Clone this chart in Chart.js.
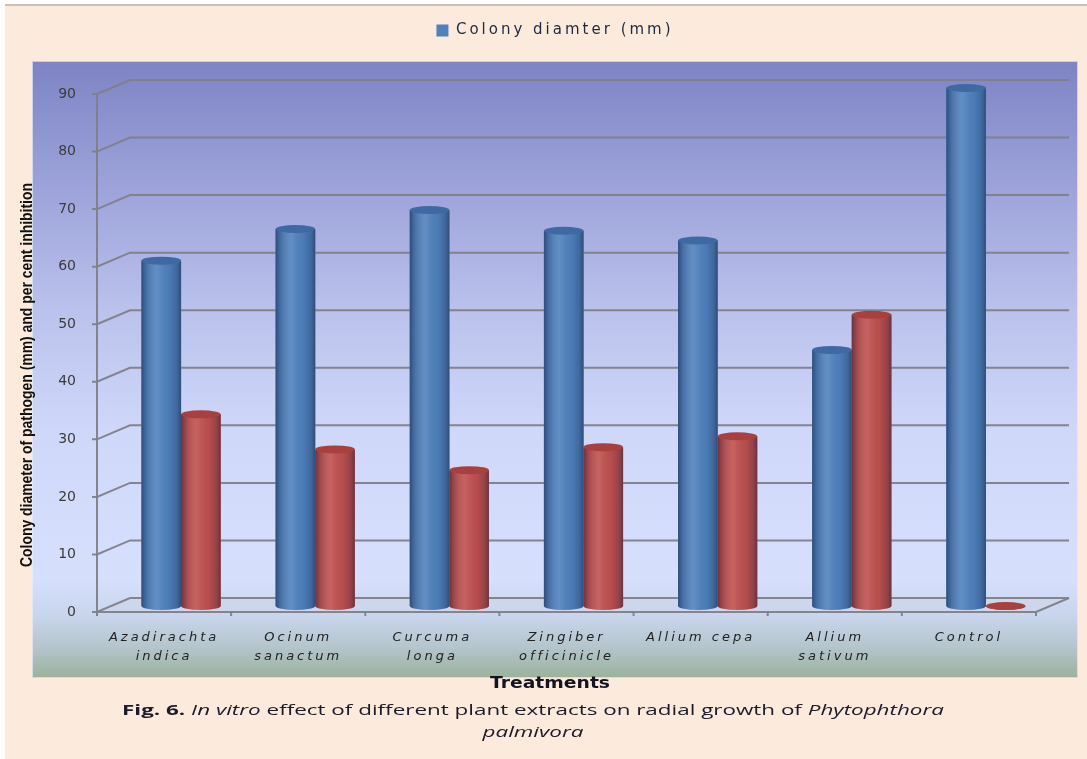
<!DOCTYPE html>
<html>
<head>
<meta charset="utf-8">
<title>Colony diameter and per cent inhibition</title>
<script src="https://cdn.jsdelivr.net/npm/chart.js@4.4.1/dist/chart.umd.min.js"></script>
<style>
  html, body { margin: 0; padding: 0; background: #ffffff; }
  canvas { display: block; }
</style>
</head>
<body>
<canvas id="chart" width="1087" height="759"></canvas>
<script>
// ---- data ----
const treatments = [
  ['Azadirachta', 'indica'],
  ['Ocinum', 'sanactum'],
  ['Curcuma', 'longa'],
  ['Zingiber', 'officinicle'],
  ['Allium cepa'],
  ['Allium', 'sativum'],
  ['Control']
];
const seriesNames = ['Colony diamter (mm)', 'Per cent inhibition'];
const colonyDiameter = [60.0, 65.5, 68.8, 65.2, 63.5, 44.5, 90.0];
const percentInhibition = [33.3, 27.2, 23.6, 27.6, 29.5, 50.6, 0];
const yTicks = [0, 10, 20, 30, 40, 50, 60, 70, 80, 90];

const yAxisTitle = 'Colony diameter of pathogen (mm) and per cent inhibition';
const xAxisTitle = 'Treatments';
const captionLine1 = [
  { text: 'Fig. 6. ', style: 'bold' },
  { text: 'In vitro', style: 'italic' },
  { text: ' effect of different plant extracts on radial growth of ', style: 'normal' },
  { text: 'Phytophthora', style: 'italic' }
];
const captionLine2 = 'palmivora';

// ---- look ----
const BLUE = '#4F81BD', BLUE_LID = '#3E69A3';
const RED = '#C0504D', RED_LID = '#A8413E';
const GRID = 'rgba(128,128,136,0.95)';
const FRONT = { dx: -17, dy: 6 };   // front edge of the 3-D floor relative to the bar plane
const BACK = { dx: 16, dy: -8 };    // back wall relative to the bar plane
const WIDE_SPACING = '3px';         // legend and category labels are set wide

function fitText(ctx, text, cx, cy, font, width, color, rotate) {
  ctx.save();
  ctx.letterSpacing = '0px';
  ctx.font = font;
  const w = ctx.measureText(text).width;
  ctx.translate(cx, cy);
  if (rotate) ctx.rotate(rotate);
  ctx.scale(width / w, 1);
  ctx.textAlign = 'center';
  ctx.textBaseline = 'middle';
  ctx.fillStyle = color;
  ctx.fillText(text, 0, 0);
  ctx.restore();
}

const room3d = {
  id: 'room3d',
  beforeLayout(chart) { chart.ctx.letterSpacing = WIDE_SPACING; },
  beforeDraw(chart) {
    const { ctx, chartArea: ca, scales: { x, y } } = chart;
    const W = chart.width, H = chart.height;
    ctx.save();
    ctx.letterSpacing = '0px';

    // page
    ctx.fillStyle = '#ffffff';
    ctx.fillRect(0, 0, W, H);
    ctx.fillStyle = '#FCEBDC';
    ctx.fillRect(5, 5, W - 5, H - 5);
    ctx.strokeStyle = '#C9C2BA';
    ctx.lineWidth = 2;
    ctx.beginPath(); ctx.moveTo(5, 5); ctx.lineTo(W, 5); ctx.stroke();

    // plot panel
    const P = { l: ca.left - 82, t: ca.top - 27, r: ca.right + 25, b: ca.bottom + 72 };
    const g = ctx.createLinearGradient(0, P.t, 0, P.b);
    g.addColorStop(0.00, '#7E84C4');
    g.addColorStop(0.20, '#9CA2D9');
    g.addColorStop(0.40, '#BAC1EC');
    g.addColorStop(0.60, '#CFD8F9');
    g.addColorStop(0.84, '#D6DFFC');
    g.addColorStop(0.90, '#C8D5EC');
    g.addColorStop(0.95, '#B4C5CC');
    g.addColorStop(1.00, '#9BB29B');
    ctx.fillStyle = g;
    ctx.fillRect(P.l, P.t, P.r - P.l, P.b - P.t);
    ctx.strokeStyle = 'rgba(235,238,250,0.7)';
    ctx.lineWidth = 1;
    ctx.strokeRect(P.l + 0.5, P.t + 0.5, P.r - P.l - 1, P.b - P.t - 1);

    const y0 = y.getPixelForValue(y.min);
    const yMax = y.getPixelForValue(y.max);
    const fl = ca.left + FRONT.dx, fr = ca.right + FRONT.dx;
    const bl = ca.left + BACK.dx, br = ca.right + BACK.dx;

    // floor
    ctx.beginPath();
    ctx.moveTo(fl, y0 + FRONT.dy);
    ctx.lineTo(bl, y0 + BACK.dy);
    ctx.lineTo(br, y0 + BACK.dy);
    ctx.lineTo(fr, y0 + FRONT.dy);
    ctx.closePath();
    ctx.fillStyle = 'rgba(205,214,234,0.9)';
    ctx.fill();

    // back-wall gridlines with their links to the front axis
    ctx.strokeStyle = GRID;
    ctx.lineWidth = 2;
    y.ticks.forEach(t => {
      const py = y.getPixelForValue(t.value);
      ctx.beginPath();
      ctx.moveTo(fl - 5, py + FRONT.dy);
      ctx.lineTo(fl, py + FRONT.dy);
      ctx.lineTo(bl, py + BACK.dy);
      ctx.lineTo(br, py + BACK.dy);
      ctx.stroke();
    });

    // front value axis
    ctx.beginPath();
    ctx.moveTo(fl, yMax + FRONT.dy);
    ctx.lineTo(fl, y0 + FRONT.dy + 4);
    ctx.stroke();

    // front floor edge and category ticks
    ctx.beginPath();
    ctx.moveTo(fl, y0 + FRONT.dy);
    ctx.lineTo(fr, y0 + FRONT.dy);
    ctx.lineTo(br, y0 + BACK.dy);
    ctx.stroke();
    for (let i = 0; i <= x.ticks.length; i++) {
      const px = x.getPixelForValue(i - 0.5) + FRONT.dx;
      ctx.beginPath();
      ctx.moveTo(px, y0 + FRONT.dy);
      ctx.lineTo(px, y0 + FRONT.dy + 4);
      ctx.stroke();
    }
    ctx.restore();
    ctx.letterSpacing = WIDE_SPACING;
  },
  afterDatasetsDraw(chart) {
    const ctx = chart.ctx;
    const lids = [BLUE_LID, RED_LID];
    chart.data.datasets.forEach((ds, di) => {
      const meta = chart.getDatasetMeta(di);
      if (meta.hidden) return;
      meta.data.forEach(bar => {
        const p = bar.getProps(['x', 'y', 'base', 'width'], true);
        const rx = p.width / 2, ry = 4;
        const l = p.x - rx, r = p.x + rx;
        ctx.save();
        // body with a rounded foot
        ctx.beginPath();
        ctx.moveTo(l, p.y);
        ctx.lineTo(l, p.base);
        ctx.ellipse(p.x, p.base, rx, ry, 0, Math.PI, 0, true);
        ctx.lineTo(r, p.y);
        ctx.closePath();
        ctx.fillStyle = ds.backgroundColor;
        ctx.fill();
        const sh = ctx.createLinearGradient(l, 0, r, 0);
        sh.addColorStop(0.00, 'rgba(15,25,55,0.50)');
        sh.addColorStop(0.10, 'rgba(15,25,55,0.22)');
        sh.addColorStop(0.40, 'rgba(255,255,255,0.10)');
        sh.addColorStop(0.70, 'rgba(15,25,55,0.05)');
        sh.addColorStop(0.90, 'rgba(15,25,55,0.25)');
        sh.addColorStop(1.00, 'rgba(15,25,55,0.50)');
        ctx.fillStyle = sh;
        ctx.fill();
        // lid
        ctx.beginPath();
        ctx.ellipse(p.x, p.y, rx, ry, 0, 0, Math.PI * 2);
        ctx.fillStyle = lids[di];
        ctx.fill();
        ctx.restore();
      });
    });
    // the value-axis labels (ticks z = 1) are drawn next, with normal spacing
    ctx.letterSpacing = '0px';
  },
  afterDraw(chart) {
    const { ctx, chartArea: ca } = chart;
    // value-axis title
    fitText(ctx, yAxisTitle, ca.left - 87, 375,
      'bold 17px "Liberation Sans Narrow", "Liberation Sans", sans-serif', 384, '#111111', -Math.PI / 2);
    // category-axis title
    fitText(ctx, xAxisTitle, 550, ca.bottom + 78, 'bold 15px "DejaVu Sans", sans-serif', 120, '#141420');

    // caption
    ctx.save();
    ctx.letterSpacing = '0px';
    const fam = '14px "Open Sans", "Liberation Sans", sans-serif';
    const fonts = { bold: 'bold ' + fam, italic: 'italic ' + fam, normal: fam };
    let total = 0;
    const widths = captionLine1.map(seg => {
      ctx.font = fonts[seg.style];
      const w = ctx.measureText(seg.text).width;
      total += w;
      return w;
    });
    const target = 822, cx = 533;
    const sx = target / total;
    ctx.fillStyle = '#1B1B2B';
    ctx.textBaseline = 'middle';
    ctx.textAlign = 'left';
    ctx.save();
    ctx.translate(cx - target / 2, 711);
    ctx.scale(sx, 1);
    let xpos = 0;
    captionLine1.forEach((seg, i) => {
      ctx.font = fonts[seg.style];
      ctx.fillText(seg.text, xpos, 0);
      xpos += widths[i];
    });
    ctx.restore();
    ctx.save();
    ctx.translate(cx, 733);
    ctx.scale(sx, 1);
    ctx.font = fonts.italic;
    ctx.textAlign = 'center';
    ctx.fillText(captionLine2, 0, 0);
    ctx.restore();
    ctx.restore();
  }
};

new Chart(document.getElementById('chart'), {
  type: 'bar',
  data: {
    labels: treatments,
    datasets: [
      { label: seriesNames[0], data: colonyDiameter, backgroundColor: BLUE, borderWidth: 0 },
      { label: seriesNames[1], data: percentInhibition, backgroundColor: RED, borderWidth: 0 }
    ]
  },
  options: {
    responsive: false,
    devicePixelRatio: 1,
    animation: false,
    layout: { padding: { top: 15, left: 57, right: 34, bottom: 0 } },
    datasets: { bar: { categoryPercentage: 0.59, barPercentage: 1.0 } },
    scales: {
      x: {
        grid: { display: false },
        border: { display: false },
        ticks: {
          color: '#222222',
          font: { family: '"DejaVu Sans", sans-serif', size: 13, style: 'italic', lineHeight: 1.45 },
          labelOffset: FRONT.dx,
          padding: 14,
          maxRotation: 0,
          autoSkip: false
        },
        afterFit(s) { s.height = 153; }
      },
      y: {
        min: yTicks[0],
        max: yTicks[yTicks.length - 1],
        grid: { display: false },
        border: { display: false },
        ticks: {
          z: 1,
          stepSize: yTicks[1] - yTicks[0],
          color: '#3B3B3B',
          font: { family: '"DejaVu Sans", sans-serif', size: 14 },
          labelOffset: FRONT.dy,
          padding: 30
        },
        afterFit(s) { s.width = 57; }
      }
    },
    plugins: {
      legend: {
        position: 'top',
        align: 'center',
        labels: {
          filter: item => item.datasetIndex === 0,
          boxWidth: 12,
          boxHeight: 12,
          padding: 8,
          color: '#1E2A44',
          font: { family: '"DejaVu Sans", sans-serif', size: 15 }
        }
      },
      // empty spacer between the legend and the plot
      title: { display: true, text: '', weight: 500, padding: { top: 0, bottom: 30 }, font: { size: 10, lineHeight: 1 } },
      tooltip: { enabled: false }
    }
  },
  plugins: [room3d]
});
</script>
</body>
</html>
